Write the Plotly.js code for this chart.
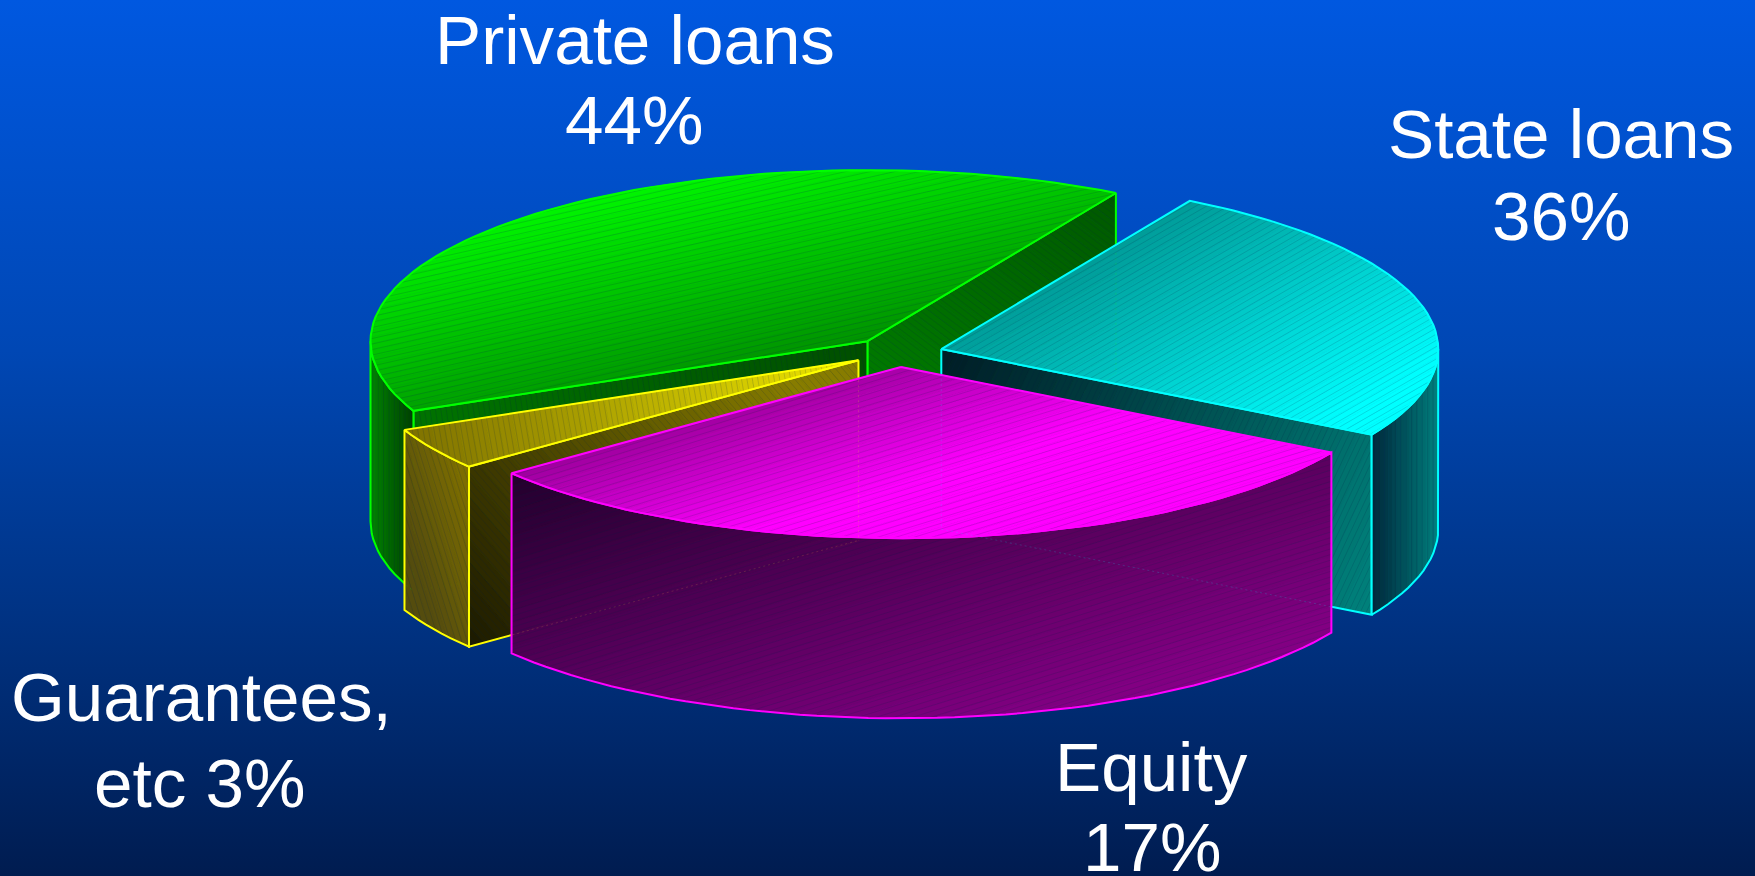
<!DOCTYPE html>
<html>
<head>
<meta charset="utf-8">
<script src="https://cdn.plot.ly/plotly-3.0.1.min.js"></script>
<style>
html,body{margin:0;padding:0;width:1755px;height:876px;overflow:hidden;
background:linear-gradient(180deg,#0058e0 0%,#0047b4 40%,#003384 70%,#001c50 100%);}
#chart{width:1755px;height:876px;}
</style>
</head>
<body>
<div id="chart"></div>
<script>
// ---------- data ----------
const categories   = ["Private loans", "Guarantees, etc", "Equity", "State loans"];
const drawnShares  = [40, 4, 31, 25];     // share of the pie each wedge actually occupies in the drawing
const labelLines   = [["Private loans","44%"],["Guarantees,","etc 3%"],["Equity","17%"],["State loans","36%"]];

// ---------- layout constants ----------
const firstAngle = 60, RX = 444, RY = 153, DEPTH = 161;
const apex = [[775,305],[767,322],[805,328],[841,312]];
const edgeColor = ["#00ff00","#ffff00","#ff00ff","#00ffff"];
const labelPos = [[[567.5,36],[566,107]],[[180,623],[179,699.5]],[[1029,686],[1029,757]],[[1395,120],[1395,193]]];
const labelSize = 69.2;

// ---------- helpers ----------
const rad = d => d*Math.PI/180;
const pt = (c,t,dz=0) => [c[0]+RX*Math.cos(rad(t)), c[1]-RY*Math.sin(rad(t))+dz];
function arc(c,t1,t2,dz=0){const n=Math.max(2,Math.ceil(Math.abs(t2-t1)/2)),o=[];
  for(let i=0;i<=n;i++)o.push(pt(c,t1+(t2-t1)*i/n,dz));return o;}
function clip(poly,nx,ny,s0,keepAbove){const out=[];const f=p=>(p[0]*nx+p[1]*ny-s0)*(keepAbove?1:-1);
  for(let i=0;i<poly.length;i++){const a=poly[i],b=poly[(i+1)%poly.length],fa=f(a),fb=f(b);
    if(fa>=0)out.push(a);
    if((fa>=0)!==(fb>=0)){const u=fa/(fa-fb);out.push([a[0]+(b[0]-a[0])*u,a[1]+(b[1]-a[1])*u]);}}
  return out;}

const traces=[];
const base={type:"scatter",mode:"lines",hoverinfo:"skip",showlegend:false};
function closeXY(poly){return {x:poly.map(p=>p[0]).concat(poly[0][0]),y:poly.map(p=>p[1]).concat(poly[0][1])};}

function face(poly,grad,edge){
  const [a,b,c0,c1]=grad;
  const dx=b[0]-a[0],dy=b[1]-a[1],len=Math.hypot(dx,dy),nx=dx/len,ny=dy/len;
  const s0=a[0]*nx+a[1]*ny;
  const ss=poly.map(p=>p[0]*nx+p[1]*ny),mn=Math.min(...ss),mx=Math.max(...ss);
  const N=Math.max(16,Math.min(34,Math.ceil((mx-mn)/6)));
  for(let i=0;i<N;i++){
    const l=mn+(mx-mn)*i/N,h=mn+(mx-mn)*(i+1)/N;
    let q=clip(poly,nx,ny,l,true);if(q.length<3)continue;
    q=clip(q,nx,ny,h,false);if(q.length<3)continue;
    const u=Math.min(1,Math.max(0,((l+h)/2-s0)/len));
    const col="rgb("+c0.map((v,k)=>Math.round(v+(c1[k]-v)*u)).join(",")+")";
    traces.push(Object.assign({},base,closeXY(q),{fill:"toself",fillcolor:col,line:{color:col,width:0.7}}));
  }
  // fine hatching parallel to the shading bands
  const hx=[],hy=[],tx=-ny,ty=nx;
  for(let s=mn+2;s<mx;s+=4.8){
    const hits=[];
    for(let i=0;i<poly.length;i++){const p=poly[i],r=poly[(i+1)%poly.length];
      const fp=p[0]*nx+p[1]*ny-s,fr=r[0]*nx+r[1]*ny-s;
      if((fp>=0)!==(fr>=0)){const u=fp/(fp-fr);hits.push([p[0]+(r[0]-p[0])*u,p[1]+(r[1]-p[1])*u]);}}
    hits.sort((m,n)=>(m[0]*tx+m[1]*ty)-(n[0]*tx+n[1]*ty));
    for(let i=0;i+1<hits.length;i+=2){hx.push(hits[i][0],hits[i+1][0],null);hy.push(hits[i][1],hits[i+1][1],null);}
  }
  traces.push(Object.assign({},base,{x:hx,y:hy,line:{color:"rgba(0,30,70,0.2)",width:0.8}}));
  traces.push(Object.assign({},base,closeXY(poly),{line:{color:edge,width:2}}));
}

// ---------- wedge angles come from the shares ----------
const total=drawnShares.reduce((a,b)=>a+b,0);
const bounds=[];let run=firstAngle;
drawnShares.forEach(v=>{const s=run;run+=v/total*360;bounds.push([s,run]);});
const wedge=i=>[apex[i]].concat(arc(apex[i],bounds[i][0],bounds[i][1]));
const cut=(i,t)=>{const c=apex[i],e=pt(c,t);return [c,e,[e[0],e[1]+DEPTH],[c[0],c[1]+DEPTH]];};
const rim=(i,t1,t2)=>arc(apex[i],t1,t2).concat(arc(apex[i],t2,t1,DEPTH));

const [G,Y,M,C]=[0,1,2,3];
// green (back)
face(cut(G,bounds[G][0]),[[997,175],[775,470],[0,88,0],[0,135,0]],edgeColor[G]);
face(cut(G,bounds[G][1]),[[775,305],[369,366],[0,78,0],[0,115,0]],edgeColor[G]);
face(rim(G,180,bounds[G][1]),[[331,400],[385,400],[0,132,0],[0,38,0]],edgeColor[G]);
face(wedge(G),[[500,178],[540,356],[0,248,0],[0,148,0]],edgeColor[G]);
// cyan
face(cut(C,bounds[C][0]),[[841,340],[1225,520],[0,30,38],[0,128,122]],edgeColor[C]);
face(rim(C,bounds[C][0],360),[[1225,450],[1285,450],[0,38,58],[0,128,125]],edgeColor[C]);
face(wedge(C),[[950,230],[1075,447],[0,150,146],[0,255,255]],edgeColor[C]);
// yellow
face(cut(Y,bounds[Y][1]),[[419,576],[700,330],[28,26,0],[135,124,0]],edgeColor[Y]);
face(rim(Y,bounds[Y][0],bounds[Y][1]),[[361,470],[425,450],[84,76,14],[128,112,0]],edgeColor[Y]);
face(wedge(Y),[[365,400],[767,330],[125,112,0],[240,232,0]],edgeColor[Y]);
// magenta (front)
face(rim(M,bounds[M][0],bounds[M][1]),[[456,423],[560,760],[34,0,44],[132,0,132]],edgeColor[M]);
face(wedge(M),[[456,400],[496,530],[138,0,138],[255,0,255]],edgeColor[M]);

// faint see-through edges
function ghost(pts,color){traces.push(Object.assign({},base,{x:pts.map(p=>p[0]),y:pts.map(p=>p[1]),
  opacity:0.16,line:{color:color,width:1,dash:"2px,3px"}}));}
const gEnd=pt(apex[G],bounds[G][0]);
ghost([gEnd,[gEnd[0],gEnd[1]+DEPTH]],edgeColor[G]);
ghost([apex[C],[apex[C][0],apex[C][1]+DEPTH]],edgeColor[C]);
ghost([apex[Y],[apex[Y][0],apex[Y][1]+DEPTH]],edgeColor[Y]);
ghost(arc(apex[G],180,bounds[G][1],DEPTH),edgeColor[G]);
const yEnd=pt(apex[Y],bounds[Y][1],DEPTH);
ghost([yEnd,[apex[Y][0],apex[Y][1]+DEPTH]],"#ffb040");
ghost([[apex[C][0],apex[C][1]+DEPTH],pt(apex[C],bounds[C][0],DEPTH)],edgeColor[C]);

// ---------- text ----------
const annotations=[];
labelLines.forEach((lines,i)=>lines.forEach((t,j)=>annotations.push({
  text:t,x:labelPos[i][j][0],y:labelPos[i][j][1],xref:"x",yref:"y",xanchor:"center",yanchor:"middle",
  showarrow:false,font:{family:"Liberation Sans, Arial, sans-serif",size:labelSize,color:"#ffffff"}})));

const layout={width:1755,height:876,margin:{l:0,r:0,t:0,b:0},autosize:false,
  paper_bgcolor:"rgba(0,0,0,0)",plot_bgcolor:"rgba(0,0,0,0)",showlegend:false,
  xaxis:{range:[0,1568],visible:false,fixedrange:true},
  yaxis:{range:[783,0],visible:false,fixedrange:true},
  annotations};
Plotly.newPlot("chart",traces,layout,{displayModeBar:false,staticPlot:true});
</script>
</body>
</html>
